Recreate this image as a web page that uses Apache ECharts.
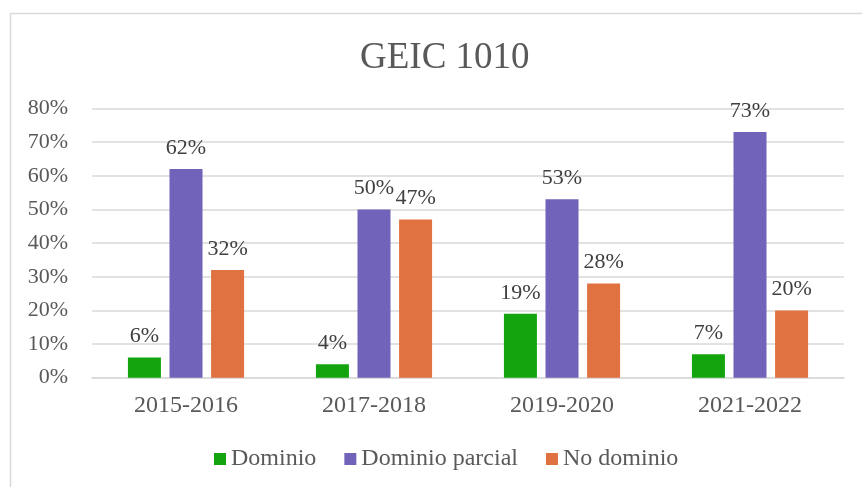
<!DOCTYPE html>
<html>
<head>
<meta charset="utf-8">
<script src="https://cdn.jsdelivr.net/npm/echarts@6/dist/echarts.min.js"></script>
<style>
  html, body { margin: 0; padding: 0; background: #fff; }
  #chart { width: 862px; height: 487px; }
</style>
</head>
<body>
<div id="chart"></div>
<script>
// 数据
const categories = ['2015-2016', '2017-2018', '2019-2020', '2021-2022']
const dominio = [6, 4, 19, 7]
const dominioParcial = [62, 50, 53, 73]
const noDominio = [32, 47, 28, 20]
const seriesNames = ['Dominio', 'Dominio parcial', 'No dominio']
const seriesColors = ['#14A50E', '#7163BA', '#E07241']

const font = '"Liberation Serif", "Times New Roman", serif'

const chart = echarts.init(document.getElementById('chart'))

// 柱子的公共配置
function makeBar(name, data, color) {
  return {
    name: name,
    type: 'bar',
    data: data,
    barWidth: 33,
    barGap: '26%',
    itemStyle: { color: color },
    label: {
      show: true,
      position: 'top',
      distance: 10,
      formatter: '{c}%',
      fontFamily: font,
      fontSize: 22,
      color: '#404040'
    }
  }
}

const option = {
  animation: false,
  backgroundColor: '#fff',
  // 外框
  graphic: [{
    type: 'rect',
    shape: { x: 10.5, y: 13.5, width: 900, height: 520 },
    style: { fill: 'none', stroke: '#d9d9d9', lineWidth: 1.5 },
    silent: true
  }],
  title: {
    text: 'GEIC 1010',
    left: 355,
    top: 35,
    textStyle: {
      fontFamily: font,
      fontSize: 37,
      fontWeight: 'normal',
      color: '#595959'
    }
  },
  legend: {
    left: 209,
    top: 442,
    itemWidth: 12,
    itemHeight: 12,
    itemGap: 28,
    icon: 'rect',
    textStyle: {
      fontFamily: font,
      fontSize: 24,
      color: '#595959'
    },
    data: seriesNames
  },
  grid: {
    left: 92,
    right: 18,
    top: 108.5,
    bottom: 109.3
  },
  xAxis: {
    type: 'category',
    data: categories,
    axisTick: { show: false },
    axisLine: { lineStyle: { color: '#d9d9d9', width: 1.5 } },
    axisLabel: {
      margin: 16,
      fontFamily: font,
      fontSize: 24,
      color: '#595959'
    }
  },
  yAxis: {
    type: 'value',
    min: 0,
    max: 80,
    interval: 10,
    axisLine: { show: false },
    axisTick: { show: false },
    splitLine: { lineStyle: { color: '#d9d9d9', width: 1.5 } },
    axisLabel: {
      margin: 24,
      formatter: '{value}%',
      fontFamily: font,
      fontSize: 22,
      color: '#595959'
    }
  },
  series: [
    makeBar(seriesNames[0], dominio, seriesColors[0]),
    makeBar(seriesNames[1], dominioParcial, seriesColors[1]),
    makeBar(seriesNames[2], noDominio, seriesColors[2])
  ]
}
chart.setOption(option)
</script>
</body>
</html>
